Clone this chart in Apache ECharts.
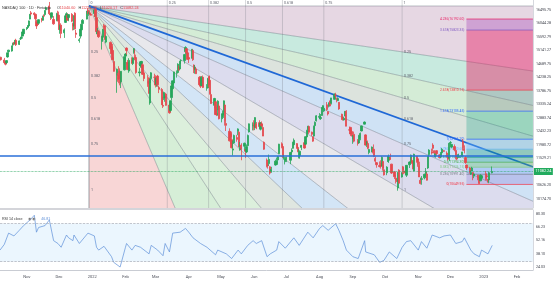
<!DOCTYPE html>
<html><head><meta charset="utf-8">
<script src="https://cdn.jsdelivr.net/npm/echarts@6/dist/echarts.min.js"></script>
<style>html,body{margin:0;padding:0;background:#fff}#c{width:554px;height:282px}</style>
</head><body><div id="c"></div>
<script>
const tradeDates = [
'2021-10-07','2021-10-08','2021-10-11','2021-10-12','2021-10-13','2021-10-14','2021-10-15','2021-10-18','2021-10-19','2021-10-20','2021-10-21','2021-10-22','2021-10-25','2021-10-26','2021-10-27','2021-10-28','2021-10-29',
'2021-11-01','2021-11-02','2021-11-03','2021-11-04','2021-11-05','2021-11-08','2021-11-09','2021-11-10','2021-11-11','2021-11-12','2021-11-15','2021-11-16','2021-11-17','2021-11-18','2021-11-19','2021-11-22','2021-11-23','2021-11-24','2021-11-26','2021-11-29','2021-11-30',
'2021-12-01','2021-12-02','2021-12-03','2021-12-06','2021-12-07','2021-12-08','2021-12-09','2021-12-10','2021-12-13','2021-12-14','2021-12-15','2021-12-16','2021-12-17','2021-12-20','2021-12-21','2021-12-22','2021-12-23','2021-12-27','2021-12-28','2021-12-29','2021-12-30','2021-12-31',
'2022-01-03','2022-01-04','2022-01-05','2022-01-06','2022-01-07','2022-01-10','2022-01-11','2022-01-12','2022-01-13','2022-01-14','2022-01-18','2022-01-19','2022-01-20','2022-01-21','2022-01-24','2022-01-25','2022-01-26','2022-01-27','2022-01-28','2022-01-31',
'2022-02-01','2022-02-02','2022-02-03','2022-02-04','2022-02-07','2022-02-08','2022-02-09','2022-02-10','2022-02-11','2022-02-14','2022-02-15','2022-02-16','2022-02-17','2022-02-18','2022-02-22','2022-02-23','2022-02-24','2022-02-25','2022-02-28',
'2022-03-01','2022-03-02','2022-03-03','2022-03-04','2022-03-07','2022-03-08','2022-03-09','2022-03-10','2022-03-11','2022-03-14','2022-03-15','2022-03-16','2022-03-17','2022-03-18','2022-03-21','2022-03-22','2022-03-23','2022-03-24','2022-03-25','2022-03-28','2022-03-29','2022-03-30','2022-03-31',
'2022-04-01','2022-04-04','2022-04-05','2022-04-06','2022-04-07','2022-04-08','2022-04-11','2022-04-12','2022-04-13','2022-04-14','2022-04-18','2022-04-19','2022-04-20','2022-04-21','2022-04-22','2022-04-25','2022-04-26','2022-04-27','2022-04-28','2022-04-29',
'2022-05-02','2022-05-03','2022-05-04','2022-05-05','2022-05-06','2022-05-09','2022-05-10','2022-05-11','2022-05-12','2022-05-13','2022-05-16','2022-05-17','2022-05-18','2022-05-19','2022-05-20','2022-05-23','2022-05-24','2022-05-25','2022-05-26','2022-05-27','2022-05-31',
'2022-06-01','2022-06-02','2022-06-03','2022-06-06','2022-06-07','2022-06-08','2022-06-09','2022-06-10','2022-06-13','2022-06-14','2022-06-15','2022-06-16','2022-06-17','2022-06-21','2022-06-22','2022-06-23','2022-06-24','2022-06-27','2022-06-28','2022-06-29','2022-06-30',
'2022-07-01','2022-07-05','2022-07-06','2022-07-07','2022-07-08','2022-07-11','2022-07-12','2022-07-13','2022-07-14','2022-07-15','2022-07-18','2022-07-19','2022-07-20','2022-07-21','2022-07-22','2022-07-25','2022-07-26','2022-07-27','2022-07-28','2022-07-29',
'2022-08-01','2022-08-02','2022-08-03','2022-08-04','2022-08-05','2022-08-08','2022-08-09','2022-08-10','2022-08-11','2022-08-12','2022-08-15','2022-08-16','2022-08-17','2022-08-18','2022-08-19','2022-08-22','2022-08-23','2022-08-24','2022-08-25','2022-08-26','2022-08-29','2022-08-30','2022-08-31',
'2022-09-01','2022-09-02','2022-09-06','2022-09-07','2022-09-08','2022-09-09','2022-09-12','2022-09-13','2022-09-14','2022-09-15','2022-09-16','2022-09-19','2022-09-20','2022-09-21','2022-09-22','2022-09-23','2022-09-26','2022-09-27','2022-09-28','2022-09-29','2022-09-30',
'2022-10-03','2022-10-04','2022-10-05','2022-10-06','2022-10-07','2022-10-10','2022-10-11','2022-10-12','2022-10-13','2022-10-14','2022-10-17','2022-10-18','2022-10-19','2022-10-20','2022-10-21','2022-10-24','2022-10-25','2022-10-26','2022-10-27','2022-10-28','2022-10-31',
'2022-11-01','2022-11-02','2022-11-03','2022-11-04','2022-11-07','2022-11-08','2022-11-09','2022-11-10','2022-11-11','2022-11-14','2022-11-15','2022-11-16','2022-11-17','2022-11-18','2022-11-21','2022-11-22','2022-11-23','2022-11-25','2022-11-28','2022-11-29','2022-11-30',
'2022-12-01','2022-12-02','2022-12-05','2022-12-06','2022-12-07','2022-12-08','2022-12-09','2022-12-12','2022-12-13','2022-12-14','2022-12-15','2022-12-16','2022-12-19','2022-12-20','2022-12-21','2022-12-22','2022-12-23','2022-12-27','2022-12-28','2022-12-29','2022-12-30',
'2023-01-03','2023-01-04','2023-01-05','2023-01-06','2023-01-09'
];
const opens = [
14840,14910,14820,14750,14730,14920,15100,15120,15320,15410,15350,15480,15340,15530,15550,15620,15700,
15870,15910,15960,16190,16400,16390,16350,16120,16030,16050,16190,16150,16300,16340,16500,16630,16360,16250,16180,16140,16330,
16320,15810,15990,15730,16080,16320,16320,16240,16350,16040,15960,16390,15720,15470,15620,15830,16040,16190,16490,16380,16380,16350,
16380,16520,16240,15690,15780,15440,15580,15950,15970,15420,15410,15260,15140,14770,14300,14300,14460,14410,14090,14490,
14950,15220,14740,14450,14830,14700,15070,14920,14900,14390,14620,14700,14660,14390,14110,14220,13380,14200,14240,
14200,14010,14280,13900,13830,13300,13540,13560,13680,13310,13130,13560,13860,14050,14380,14400,14580,14520,14800,14800,15100,15200,15060,
14900,14880,15140,14650,14500,14520,14240,14170,13960,14240,13900,13890,14260,14140,13660,13300,13420,13020,13140,13280,
12850,12970,13070,13310,12690,12430,12350,12150,11800,12040,12220,12430,12400,11810,11970,11930,11820,11740,11950,12410,12620,
12720,12570,12680,12720,12500,12680,12560,12060,11470,11300,11350,11240,11100,11300,11320,11470,11680,12010,11920,11560,11410,
11480,11460,11740,11860,11980,12020,11890,11560,11620,11890,12050,12000,12240,12420,12590,12400,12250,12270,12620,12780,
12900,12860,12960,13220,13110,13320,13090,13270,13450,13370,13500,13640,13530,13460,13400,13000,12830,12810,12940,13100,12480,12560,12420,
12160,12330,12120,12040,12190,12440,12670,12310,12020,12020,11720,11740,11810,11830,11520,11380,11280,11380,11280,11420,11140,
11040,11420,11460,11550,11330,11070,10860,10780,10530,11130,10900,11240,11080,11100,10960,11310,11400,11390,11440,11100,11590,
11510,11290,10790,10820,10870,11010,11000,11200,11650,11740,11970,11780,11570,11780,11640,11580,11710,11780,11700,11580,11530,
12040,11900,11920,11790,11530,11580,11560,11600,12080,11850,11550,11300,11200,11000,11100,11050,10930,10960,10850,10770,10860,
11010,10940,10820,10800,11040.6
];
const highs = [
14960,14930,14890,14790,14810,15070,15160,15300,15400,15420,15490,15530,15480,15600,15640,15770,15860,
15920,15990,16140,16360,16460,16420,16380,16170,16080,16180,16230,16300,16350,16490,16610,16764,16390,16410,16290,16400,16470,
16440,16010,16050,15880,16330,16420,16380,16350,16390,16070,16320,16420,15830,15560,15860,16030,16190,16460,16560,16440,16480,16410,
16510,16560,16290,15890,15830,15630,15860,16030,16000,15640,15440,15380,15360,14910,14530,14390,14610,14540,14450,14940,
15050,15240,14820,14880,14910,14910,15220,15170,15000,14560,14770,14790,14710,14430,14310,14240,14190,14410,14360,
14310,14240,14320,13960,13880,13580,13760,13660,13720,13400,13460,13960,14130,14430,14470,14710,14640,14790,14840,15010,15280,15210,15090,
14920,15180,15180,14670,14650,14580,14280,14280,14280,14300,14010,14220,14270,14300,13730,13550,13440,13250,13470,13350,
13030,13120,13460,13330,12780,12530,12420,12420,12120,12320,12310,12530,12440,12070,12030,12050,11830,11990,12320,12690,12730,
12800,12900,12740,12800,12730,12760,12680,12090,11520,11380,11650,11260,11240,11480,11550,11600,12010,12060,12010,11640,11560,
11580,11740,11860,12080,12190,12030,11990,11840,11790,11970,12130,12260,12480,12610,12620,12420,12260,12620,12760,12970,
13040,13010,13240,13300,13250,13410,13100,13400,13500,13550,13700,13720,13560,13570,13410,13020,12920,12920,13100,13140,12590,12580,12480,
12300,12420,12170,12310,12390,12620,12760,12330,12100,12120,11840,11920,11860,11990,11580,11400,11420,11460,11590,11440,11280,
11260,11600,11650,11680,11340,11100,10960,10850,11070,11160,11060,11270,11190,11280,11300,11420,11650,11550,11470,11680,11600,
11530,11410,10880,10930,11010,11200,11050,11600,11830,11850,12030,11790,11710,11800,11660,11730,11870,11800,11760,11620,12040,
12100,12000,11990,11810,11600,11660,11680,11740,12170,11960,11600,11310,11230,11120,11240,11060,11010,10970,10920,10990,10950,
11100,10990,10830,11080,11251.28
];
const lows = [
14820,14800,14720,14640,14690,14900,15060,15100,15290,15320,15340,15290,15320,15490,15540,15610,15690,
15820,15870,15920,16180,16310,16290,16130,15860,15980,16010,16080,16140,16260,16300,16470,16350,16160,16200,16000,16120,16110,
15830,15700,15550,15560,16060,16230,16140,16120,16090,15810,15820,15840,15560,15400,15540,15820,16030,16180,16370,16300,16330,16310,
16260,16190,15760,15610,15560,15170,15490,15840,15500,15380,15170,15020,14810,14430,13720,14090,14040,13970,13880,14470,
14790,15000,14480,14390,14690,14650,15030,14810,14360,14270,14560,14550,14320,14110,13920,13700,13320,14050,14140,
13900,13920,13930,13710,13310,13210,13480,13420,13290,13020,13090,13460,13820,13990,14230,14380,14470,14500,14680,14700,15000,15000,14840,
14720,14870,14790,14380,14360,14350,13980,13880,13950,13880,13790,13860,13900,13660,13350,13200,12980,12940,12950,12830,
12730,12910,12880,12620,12440,12090,12000,11860,11620,12010,12080,12300,11900,11780,11460,11790,11540,11700,11920,12390,12460,
12460,12470,12500,12530,12460,12570,12270,11810,11220,11180,11280,10980,11040,11280,11310,11380,11670,11860,11550,11480,11320,
11400,11330,11680,11850,11960,11850,11730,11520,11510,11800,11850,11970,12230,12350,12340,12270,12080,12260,12500,12760,
12830,12810,12950,13170,13080,13120,12960,13230,13270,13330,13490,13530,13400,13440,13150,12810,12790,12790,12920,12600,12440,12270,12260,
12010,12060,11950,12020,12130,12430,12660,11950,11900,11830,11660,11730,11690,11570,11380,11210,11220,11180,11240,11110,10950,
10960,11400,11370,11470,11000,10830,10680,10730,10440,10680,10880,10990,10990,10970,10900,11200,11380,11340,11160,11090,11380,
11240,10900,10650,10640,10820,10920,10780,11170,11560,11650,11750,11660,11550,11610,11520,11530,11700,11740,11550,11450,11430,
11960,11860,11760,11490,11460,11520,11540,11580,11780,11690,11340,11130,11020,10970,11090,10790,10860,10790,10670,10760,10820,
10780,10780,10710,10690,11020.17
];
const closes = [
14890,14830,14730,14680,14800,15060,15150,15290,15380,15370,15480,15330,15460,15530,15570,15760,15850,
15900,15970,16130,16350,16360,16340,16200,15960,16010,16170,16160,16290,16290,16470,16570,16370,16330,16400,16030,16370,16140,
15840,15950,15710,15830,16300,16370,16150,16340,16120,15950,16300,15860,15680,15500,15850,16020,16150,16460,16380,16390,16340,16320,
16500,16280,15770,15770,15600,15610,15850,15920,15510,15610,15200,15030,14830,14440,14510,14170,14200,14040,14440,14930,
15020,15140,14500,14810,14720,14890,15200,14870,14400,14420,14760,14770,14340,14200,14030,13700,14180,14390,14240,
13980,14220,13990,13840,13320,13270,13730,13600,13300,13050,13450,13950,14120,14420,14390,14680,14480,14780,14800,15000,15240,15060,14840,
14850,15180,14830,14500,14580,14360,13990,13940,14240,13900,13900,14180,13980,13690,13360,13530,12990,12990,13440,12850,
13010,13050,13450,12780,12630,12110,12250,11880,11840,12290,12160,12510,11910,11860,11840,12030,11760,11910,12290,12680,12640,
12560,12890,12540,12590,12710,12620,12270,11830,11260,11280,11490,11030,11150,11430,11410,11580,12000,11910,11560,11560,11500,
11560,11720,11800,12060,12130,11860,11750,11730,11760,11960,11870,12250,12440,12600,12400,12330,12100,12600,12730,12950,
12930,12890,13230,13290,13200,13160,13010,13380,13290,13550,13670,13640,13480,13530,13180,12840,12820,12860,13100,12600,12470,12340,12270,
12280,12100,12020,12280,12360,12610,12740,11970,12070,11860,11820,11900,11780,11580,11430,11310,11250,11270,11560,11200,10970,
11230,11590,11570,11490,11030,10910,10790,10750,11040,10690,11030,11140,11080,11030,11290,11400,11630,11370,11170,11660,11410,
11310,10900,10680,10840,10990,11080,10790,11580,11800,11700,11860,11700,11680,11680,11550,11720,11830,11760,11580,11490,12030,
12050,11990,11810,11560,11500,11640,11590,11740,11880,11790,11380,11200,11060,11050,11200,10950,11000,10850,10680,10960,10940,
10860,10910,10740,11040,11082.24
];
const rsiDates = ['2021-10-07','2021-10-11','2021-10-15','2021-10-20','2021-10-25','2021-10-29','2021-11-04','2021-11-08','2021-11-10','2021-11-12','2021-11-18','2021-11-22','2021-11-26','2021-11-30','2021-12-03','2021-12-08','2021-12-10','2021-12-14','2021-12-15','2021-12-20','2021-12-28','2022-01-03','2022-01-05','2022-01-07','2022-01-12','2022-01-19','2022-01-21','2022-01-27','2022-02-01','2022-02-02','2022-02-07','2022-02-10','2022-02-15','2022-02-23','2022-02-25','2022-03-03','2022-03-08','2022-03-10','2022-03-14','2022-03-17','2022-03-24','2022-03-29','2022-04-01','2022-04-05','2022-04-12','2022-04-18','2022-04-26','2022-04-28','2022-05-06','2022-05-11','2022-05-17','2022-05-20','2022-05-26','2022-05-31','2022-06-03','2022-06-08','2022-06-13','2022-06-16','2022-06-22','2022-06-24','2022-06-30','2022-07-08','2022-07-13','2022-07-21','2022-07-26','2022-08-01','2022-08-04','2022-08-09','2022-08-16','2022-08-19','2022-08-23','2022-08-26','2022-09-01','2022-09-06','2022-09-12','2022-09-13','2022-09-21','2022-09-26','2022-09-30','2022-10-05','2022-10-12','2022-10-17','2022-10-21','2022-10-25','2022-11-01','2022-11-04','2022-11-09','2022-11-14','2022-11-21','2022-11-25','2022-12-01','2022-12-06','2022-12-12','2022-12-14','2022-12-20','2022-12-23','2022-12-28','2022-12-30','2023-01-05','2023-01-09'];
const rsiValues = [42,48,60,57,63,68,74,79,61,66,68,74,52,49,45,58,55,52,58,49,60,57,45,42,46,35,29,24,45,49,42,47,45,38,47,42,36,49,40,60,61,65,61,55,49,45,37,42,38,33,42,38,47,52,49,52,35,38,42,51,44,55,47,61,55,65,68,63,70,63,52,42,35,33,52,40,37,29,31,40,33,45,51,52,42,51,44,58,55,57,58,49,51,55,42,38,35,42,38,47];
const priceTicks = [16495.75,16044.28,15592.79,15141.27,14689.75,14238.25,13786.75,13335.24,12883.74,12432.23,11980.72,11529.21,10626.20,10174.70];
const rsiTicks = [80.30,66.23,52.16,38.10,24.03];
const monthTicks = ['2021-11-01','2021-12-01','2022-01-01','2022-02-01','2022-03-01','2022-04-01','2022-05-01','2022-06-01','2022-07-01','2022-08-01','2022-09-01','2022-10-01','2022-11-01','2022-12-01','2023-01-01','2023-02-01'];
const monthLabels = ['Nov','Dec','2022','Feb','Mar','Apr','May','Jun','Jul','Aug','Sep','Oct','Nov','Dec','2023','Feb'];
const fanStart = ['2021-12-29', 16630];
const fanEnd = ['2022-10-17', 10476];
const fanLevels = [0, 0.25, 0.382, 0.5, 0.618, 0.75, 1];
const fibStart = '2022-12-16';
const fibNames = ['0','0.236','0.382','0.5','0.618','0.786','1','1.618','2.618','3.618','4.236'];
const fibPrices = [10649.95,10991.40,11226.15,11394.30,11562.45,11830.60,12166.20,13105.45,13810.15,15823.35,16192.60];
const hLinePrice = 11613;
const lastPrice = 11082.24;

const T = s => new Date(s + 'T00:00:00').getTime();
const xMin = T('2021-10-07'), xMax = T('2023-02-16');

const fanShallowFill = ['#e6d7e3','#c8eadf','#d4ecd6','#dce3dd','#cfe2f5','#dcdcee'];
const fanSteepFill = ['#f8d6d6','#d6eed7','#dcefdc','#dfe6e0','#d3e5f6','#e8e8ec'];
const fibBandFill = ['rgba(120,100,210,0.25)','rgba(41,98,255,0.18)','rgba(76,175,80,0.3)','rgba(8,153,129,0.3)','rgba(8,153,129,0.35)','rgba(100,181,246,0.35)','rgba(8,153,129,0.28)','rgba(120,123,134,0.3)','rgba(233,30,99,0.45)','rgba(156,39,176,0.3)'];
const fibLineColor = ['#f23645','#787b86','#81c784','#4caf50','#089981','#64b5f6','#2962ff','#2962ff','#f23645','#7e57c2','#e91e63'];

function renderFan(params, api) {
  const cs = params.coordSys;
  const A = api.coord([T(fanStart[0]), fanStart[1]]);
  const B = api.coord([T(fanEnd[0]), fanEnd[1]]);
  const W = B[0] - A[0], H = B[1] - A[1];
  const K = 40;
  const far = p => [A[0] + (p[0] - A[0]) * K, A[1] + (p[1] - A[1]) * K];
  const sh = fanLevels.map(L => far([B[0], A[1] + L * H]));
  const st = fanLevels.map(L => far([A[0] + L * W, B[1]]));
  const ch = [];
  for (let i = 0; i < fanLevels.length - 1; i++) {
    ch.push({type:'polygon', shape:{points:[A, sh[i], sh[i+1]]}, style:{fill: fanShallowFill[i]}});
    ch.push({type:'polygon', shape:{points:[A, st[i], st[i+1]]}, style:{fill: fanSteepFill[i]}});
  }
  fanLevels.forEach(L => {
    const x = A[0] + L * W;
    ch.push({type:'line', shape:{x1:x, y1:cs.y, x2:x, y2:cs.y + cs.height}, style:{stroke:'rgba(120,123,134,0.5)', lineWidth:0.6}});
  });
  fanLevels.forEach((L, i) => {
    if (i !== 4) ch.push({type:'line', shape:{x1:A[0], y1:A[1], x2:sh[i][0], y2:sh[i][1]}, style:{stroke:'rgba(60,75,90,0.55)', lineWidth:0.6}});
    if (i < fanLevels.length - 1) ch.push({type:'line', shape:{x1:A[0], y1:A[1], x2:st[i][0], y2:st[i][1]}, style:{stroke:'rgba(60,75,90,0.55)', lineWidth:0.6}});
  });
  ch.push({type:'line', shape:{x1:A[0], y1:A[1], x2:sh[4][0], y2:sh[4][1]}, style:{stroke:'#1f68d6', lineWidth:1.8}});
  const lab = (txt, x, y, va) => ({type:'text', x, y, style:{text:txt, fontSize:3.6, fill:'#5d606b', align:'left', verticalAlign:va || 'middle', fontFamily:'Roboto'}});
  fanLevels.forEach(L => {
    ch.push(lab(String(L), A[0] + L * W + 1.5, cs.y + 1, 'top'));
    if (L > 0) {
      ch.push(lab(String(L), A[0] + 2, A[1] + L * H));
      ch.push(lab(String(L), B[0] + 2, A[1] + L * H));
    }
  });
  return {type:'group', children: ch};
}

function renderFib(params, api) {
  const cs = params.coordSys;
  const x0 = api.coord([T(fibStart), fibPrices[0]])[0];
  const x1 = cs.x + cs.width;
  const ys = fibPrices.map(p => api.coord([T(fibStart), p])[1]);
  const ch = [];
  for (let i = 0; i < fibPrices.length - 1; i++) {
    ch.push({type:'rect', shape:{x:x0, y:ys[i+1], width:x1 - x0, height:ys[i] - ys[i+1]}, style:{fill: fibBandFill[i]}});
  }
  fibPrices.forEach((p, i) => {
    ch.push({type:'line', shape:{x1:x0, y1:ys[i], x2:x1, y2:ys[i]}, style:{stroke: fibLineColor[i], lineWidth:0.7}});
    ch.push({type:'text', x:x0 - 2, y:ys[i], style:{text: fibNames[i] + '(' + p.toFixed(2) + ')', fontSize:3.3, fill: fibLineColor[i], align:'right', verticalAlign:'middle', fontFamily:'Roboto'}});
  });
  return {type:'group', children: ch};
}

const candleData = tradeDates.map((d, i) => [T(d), opens[i], closes[i], lows[i], highs[i]]);
const rsiData = rsiDates.map((d, i) => [T(d), rsiValues[i]]);
const monthMap = {};
monthTicks.forEach((m, i) => { monthMap[T(m)] = monthLabels[i]; });

const chart = echarts.init(document.getElementById('c'), null, {renderer:'canvas'});
chart.setOption({
  animation: false,
  backgroundColor: '#ffffff',
  grid: [
    {left: 0, right: 21, top: 0, height: 208},
    {left: 0, right: 21, top: 210, height: 60}
  ],
  xAxis: [
    {type:'value', gridIndex:0, min:xMin, max:xMax, axisLabel:{show:false}, axisTick:{show:false}, axisLine:{show:false}, splitLine:{show:false}},
    {type:'value', gridIndex:1, min:xMin, max:xMax, axisTick:{show:false}, splitLine:{show:false},
      axisLine:{show:true, lineStyle:{color:'#c9ccd3', width:1}},
      axisLabel:{customValues: monthTicks.map(T), formatter: v => monthMap[v] || '', fontSize:4, color:'#4a4d57', margin:5, fontFamily:'Roboto', hideOverlap:false}}
  ],
  yAxis: [
    {type:'value', gridIndex:0, position:'right', min:9860, max:16830,
      axisLine:{show:true, lineStyle:{color:'#d6d8de'}}, axisTick:{show:false}, splitLine:{show:false},
      axisLabel:{customValues: priceTicks, formatter: v => v.toFixed(2), fontSize:3.6, color:'#3b3e48', margin:3, fontFamily:'Roboto'}},
    {type:'value', gridIndex:1, position:'right', min:20.85, max:84.55,
      axisLine:{show:true, lineStyle:{color:'#d6d8de'}}, axisTick:{show:false}, splitLine:{show:false},
      axisLabel:{customValues: rsiTicks, formatter: v => v.toFixed(2), fontSize:3.6, color:'#3b3e48', margin:3, fontFamily:'Roboto'}}
  ],
  series: [
    {type:'custom', name:'fan', xAxisIndex:0, yAxisIndex:0, z:1, silent:true, clip:true, renderItem: renderFan,
      data:[[T(fanStart[0]), fanStart[1]]], encode:{x:0, y:1}},
    {type:'custom', name:'fib', xAxisIndex:0, yAxisIndex:0, z:2, silent:true, clip:true, renderItem: renderFib,
      data:[[T(fibStart), fibPrices[0]]], encode:{x:0, y:1}},
    {type:'candlestick', name:'NASDAQ 100', xAxisIndex:0, yAxisIndex:0, z:3, barWidth:1.8,
      dimensions:['date','open','close','lowest','highest'], encode:{x:0, y:[1,2,3,4]},
      data: candleData,
      itemStyle:{color:'#26a65b', color0:'#e5484d', borderColor:'#26a65b', borderColor0:'#e5484d', borderWidth:0.8},
      markLine:{silent:true, symbol:['none','none'], animation:false,
        data:[
          {yAxis: hLinePrice, lineStyle:{color:'#2a6fd8', width:1.5, type:'solid'}, label:{show:false}},
          {yAxis: lastPrice, lineStyle:{color:'#26a65b', width:0.7, type:'dotted'},
            label:{show:true, position:'end', formatter: () => lastPrice.toFixed(2), backgroundColor:'#22ab5e', color:'#fff', fontSize:3.8, padding:[1.5,1.5], distance:1, fontFamily:'Roboto'}}
        ]}
    },
    {type:'line', name:'RSI', xAxisIndex:1, yAxisIndex:1, data: rsiData, showSymbol:false, symbol:'none',
      lineStyle:{color:'#5d8fd8', width:0.7},
      markArea:{silent:true, itemStyle:{color:'rgba(33,150,243,0.09)'}, data:[[{yAxis:70},{yAxis:30}]]},
      markLine:{silent:true, symbol:['none','none'], label:{show:false}, lineStyle:{color:'#9aa0ab', type:'dashed', width:0.6},
        data:[{yAxis:70},{yAxis:30}]}
    }
  ],
  graphic: [
    {type:'line', shape:{x1:0, y1:209, x2:533, y2:209}, style:{stroke:'#a9acb5', lineWidth:1.2}, z:100},
    {type:'text', left:2, top:2, z:100, style:{text:'{a|NASDAQ 100 · 1D · Fintargo}  {b|O}{r|11040.60} {b|H}{r|11251.28} {b|L}{r|11020.17} {b|C}{r|11082.24}',
      rich:{a:{fontSize:3.8, fill:'#333'}, b:{fontSize:3.8, fill:'#333'}, r:{fontSize:3.8, fill:'#e5484d'}}, fontFamily:'Roboto'}},
    {type:'text', left:2, top:213, z:100, style:{text:'{a|RSI 14 close}  {b|◉ ◉}  {c|46.81}',
      rich:{a:{fontSize:3.6, fill:'#333'}, b:{fontSize:3.6, fill:'#777'}, c:{fontSize:3.6, fill:'#5d8fd8'}}, fontFamily:'Roboto'}}
  ]
});
</script>
</body></html>
